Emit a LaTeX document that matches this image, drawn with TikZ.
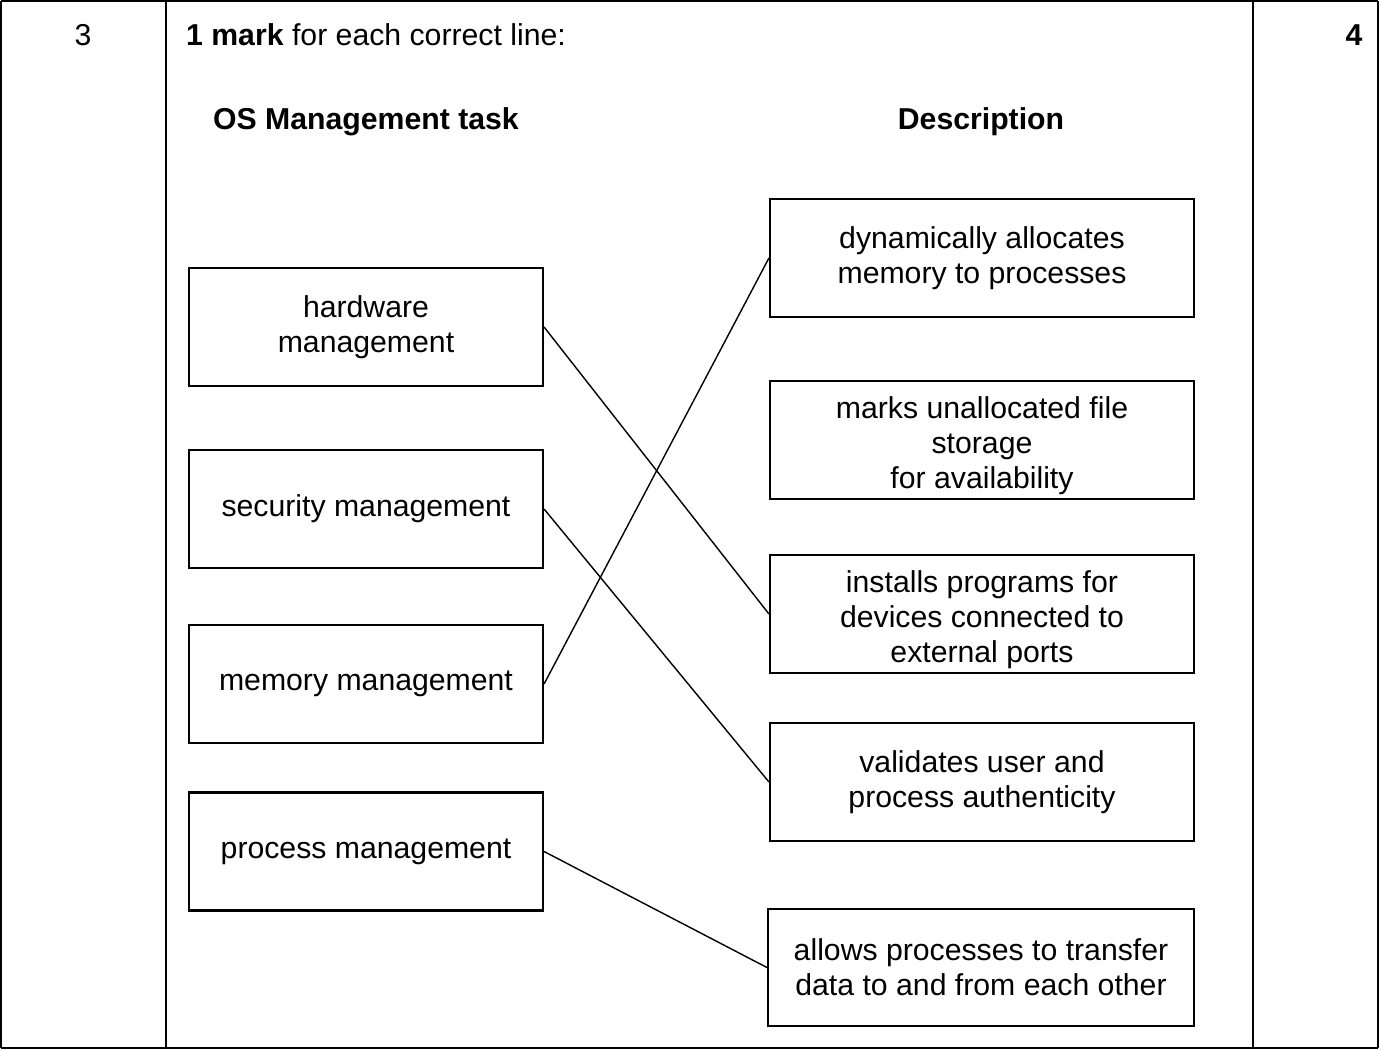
\documentclass[tikz,border=0pt]{standalone}
\usepackage{fontspec}
\setmainfont{Liberation Sans}
\begin{document}
\begin{tikzpicture}[x=0.02cm,y=-0.02cm,
  box/.style={draw,line width=1.2pt,minimum width=354*0.02cm,minimum height=118*0.02cm,inner sep=0pt},
  txt/.style={align=center,font=\fontsize{17.2}{19.9}\selectfont},
  conn/.style={line width=0.8pt}]
\useasboundingbox (0,0) rectangle (1379,1050);
\draw[line width=1pt] (1,1) -- (1378,1) (1,1) -- (1,1048) (166,1) -- (166,1048) (1253,1) -- (1253,1048) (1378,1) -- (1378,1048) (1,1048) -- (1378,1048);
\node[txt] (n3) at (83,35) {3};
\node[txt,anchor=west] (hd) at (180,35) {\textbf{1 mark} for each correct line:};
\node[txt] (n4) at (1354,35) {\textbf{4}};
\node[txt] (h1) at (366,122) {\textbf{OS Management task}};
\node[txt] (h2) at (981,122) {\textbf{Description}};
% left
\node[box,txt] (hw) at (366,327) {hardware\\management};
\node[box,txt] (sec) at (366,509) {security management};
\node[box,txt] (mem) at (366,684) {memory management};
\node[box,txt] (proc) at (366,851.5) {process management};
% right
\node[box,txt,minimum width=424*0.02cm] (dyn) at (982,258) {dynamically allocates\\memory to processes};
\node[box,minimum width=424*0.02cm] (marks) at (982,440) {};
\node[box,minimum width=424*0.02cm] (inst) at (982,614) {};
\node[box,txt,minimum width=424*0.02cm] (val) at (982,782) {validates user and\\process authenticity};
\node[box,txt,minimum width=426*0.02cm,minimum height=117*0.02cm] (allows) at (981,967.5) {allows processes to transfer\\data to and from each other};
\begin{scope}
\clip (marks.north west) rectangle ([yshift=0.04cm]marks.south east);
\node[txt] (mt) at (982,446) {marks unallocated file\\storage\\for availability};
\end{scope}
\begin{scope}
\clip (inst.north west) rectangle ([yshift=0.04cm]inst.south east);
\node[txt] (it) at (982,620) {installs programs for\\devices connected to\\external ports};
\end{scope}
\draw[conn] (hw.east) -- (inst.west);
\draw[conn] (sec.east) -- (val.west);
\draw[conn] (mem.east) -- (dyn.west);
\draw[conn] (proc.east) -- (allows.west);
\end{tikzpicture}
\end{document}
